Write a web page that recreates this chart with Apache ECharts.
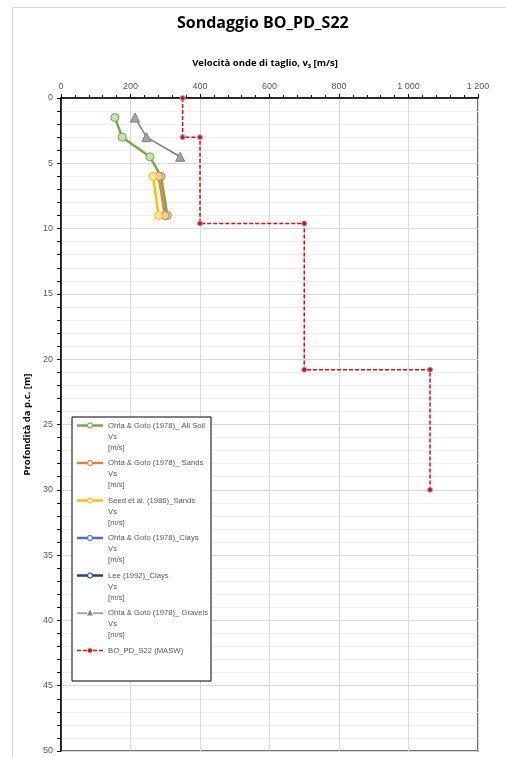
<!DOCTYPE html>
<html>
<head>
<meta charset="utf-8">
<script src="https://cdn.jsdelivr.net/npm/echarts@6/dist/echarts.min.js"></script>
<style>
html,body{margin:0;padding:0;background:#fff;}
#chart{width:506px;height:757px;}
</style>
</head>
<body>
<div id="chart"></div>
<script>
// ---- data ----
const xTicks = [0, 200, 400, 600, 800, 1000, 1200];
const yTicks = [0, 5, 10, 15, 20, 25, 30, 35, 40, 45, 50];

const depthAllSoil = [1.5, 3, 4.5, 6, 9];
const vsAllSoil    = [155, 176, 256, 288, 306];

const depthSands = [6, 9];
const vsSands    = [281, 299];

const depthSeed = [6, 9];
const vsSeed    = [265, 281];

const depthClays = [];
const vsClays    = [];

const depthLee = [];
const vsLee    = [];

const depthGravels = [1.5, 3, 4.5];
const vsGravels    = [213, 246, 343];

const depthMasw = [0, 3, 3, 9.6, 9.6, 20.8, 20.8, 30];
const vsMasw    = [350, 350, 400, 400, 700, 700, 1062, 1062];

const names = [
  'Ohta & Goto (1978)_ All Soil\nVs\n[m/s]',
  'Ohta & Goto (1978)_ Sands\nVs\n[m/s]',
  'Seed et al. (1986)_Sands\nVs\n[m/s]',
  'Ohta & Goto (1978)_Clays\nVs\n[m/s]',
  'Lee (1992)_Clays\nVs\n[m/s]',
  'Ohta & Goto (1978)_ Gravels\nVs\n[m/s]',
  'BO_PD_S22 (MASW)'
];

// ---- build ----
const pairs = (vs, d) => vs.map((v, i) => [v, d[i]]);
const FONT = "'Liberation Sans Narrow','Liberation Sans',Arial,sans-serif";
const TFONT = "'Open Sans','Liberation Sans',sans-serif";

const colors = ['#70ad47', '#ed7d31', '#ffc000', '#4472c4', '#264478', '#7f7f7f', '#ff0000'];
const fills  = ['#c5e0b4', '#f8cbad', '#ffe699', '#b4c7e7', '#8faadc', '#a5a5a5', '#ff0000'];

// legend icon: line at top (first text line), hollow circle
const ring = 'M0,0M26,33M0,4.3L10,4.3L10,6.7L0,6.7ZM16,4.3L26,4.3L26,6.7L16,6.7Z' +
  'M16,5.5A3,3 0 1,1 10,5.5A3,3 0 1,1 16,5.5ZM14.9,5.5A1.9,1.9 0 1,0 11.1,5.5A1.9,1.9 0 1,0 14.9,5.5Z';
const tri = 'M0,0M26,33M0,5L10,5L10,6.3L0,6.3ZM16,5L26,5L26,6.3L16,6.3ZM13,2.3L16,8L10,8Z';
const dash = 'M0,0M26,33M0,4.7L4,4.7L4,6.3L0,6.3ZM6,4.7L10,4.7L10,6.3L6,6.3ZM16,4.7L20,4.7L20,6.3L16,6.3ZM22,4.7L26,4.7L26,6.3L22,6.3Z' +
  'M15.2,5.5A2.2,2.2 0 1,1 10.8,5.5A2.2,2.2 0 1,1 15.2,5.5Z';

const legendData = names.map((n, i) => ({
  name: n,
  icon: 'path://' + (i === 5 ? tri : i === 6 ? dash : ring),
  itemStyle: { color: colors[i], borderWidth: 0 }
}));

function lineSeries(i, data, opts) {
  return Object.assign({
    name: names[i],
    type: 'line',
    data: data,
    symbol: 'circle',
    symbolSize: 8,
    lineStyle: { color: colors[i], width: 2.5 },
    itemStyle: { color: fills[i], borderColor: colors[i], borderWidth: 1 },
    emphasis: { disabled: true },
    animation: false,
    z: 3
  }, opts || {});
}

const chart = echarts.init(document.getElementById('chart'), null, { renderer: 'canvas' });
chart.setOption({
  backgroundColor: '#ffffff',
  animation: false,
  title: {
    text: 'Sondaggio BO_PD_S22',
    top: 15,
    left: 177,
    padding: 0,
    textStyle: { fontFamily: TFONT, fontSize: 16, fontWeight: 'bold', color: '#000' }
  },
  graphic: [{
    type: 'rect',
    shape: { x: 12.5, y: 7.5, width: 510, height: 770 },
    style: { fill: 'none', stroke: '#d9d9d9', lineWidth: 1 },
    z: -1
  }],
  grid: {
    left: 61, top: 98, right: 28, bottom: 6,
    show: true, borderColor: '#404040', borderWidth: 1.5, backgroundColor: 'transparent'
  },
  legend: {
    orient: 'vertical',
    left: 72,
    top: 417,
    padding: [3, 3, 3, 5],
    itemWidth: 26,
    itemHeight: 33,
    itemGap: 4.5,
    backgroundColor: '#ffffff',
    borderColor: '#000000',
    borderWidth: 1,
    data: legendData,
    formatter: function (n) { return n === names[6] ? n + '\n \n ' : n; },
    textStyle: { fontFamily: FONT, fontSize: 7.7, lineHeight: 11, color: '#595959' },
    selectedMode: false,
    z: 10
  },
  xAxis: {
    type: 'value',
    position: 'top',
    min: xTicks[0],
    max: xTicks[xTicks.length - 1],
    interval: 200,
    name: '{b|Velocità onde di taglio, v}{s|s}{b| [m/s]}',
    nameLocation: 'middle',
    nameGap: 28,
    nameTextStyle: {
      padding: [0, 9, 0, 0],
      rich: {
        b: { fontFamily: TFONT, fontSize: 9.5, fontWeight: 'bold', color: '#000' },
        s: { fontFamily: TFONT, fontSize: 6.5, fontWeight: 'bold', color: '#000', verticalAlign: 'bottom', padding: [6, 0, 0, 0] }
      }
    },
    axisLine: { show: true, lineStyle: { color: '#000', width: 1.5 } },
    axisTick: { show: true, inside: false, length: 4, lineStyle: { color: '#000' } },
    minorTick: { show: true, splitNumber: 5, length: 3, lineStyle: { color: '#000' } },
    axisLabel: {
      fontFamily: FONT, fontSize: 9, color: '#595959', margin: 7,
      formatter: v => String(v).replace(/\B(?=(\d{3})+$)/g, ' ')
    },
    splitLine: { show: true, lineStyle: { color: '#d9d9d9', width: 1 } },
    minorSplitLine: { show: false }
  },
  yAxis: {
    type: 'value',
    inverse: true,
    min: yTicks[0],
    max: yTicks[yTicks.length - 1],
    interval: 5,
    name: 'Profondità da p.c. [m]',
    nameLocation: 'middle',
    nameRotate: 90,
    nameGap: 24,
    nameTextStyle: { fontFamily: TFONT, fontSize: 9.5, fontWeight: 'bold', color: '#000' },
    axisLine: { show: true, lineStyle: { color: '#000', width: 1.5 } },
    axisTick: { show: true, inside: false, length: 4, lineStyle: { color: '#000' } },
    minorTick: { show: true, splitNumber: 5, length: 4, lineStyle: { color: '#000' } },
    axisLabel: { fontFamily: FONT, fontSize: 9, color: '#595959', margin: 8 },
    splitLine: { show: true, lineStyle: { color: '#d9d9d9', width: 1 } },
    minorSplitLine: { show: true, lineStyle: { color: '#f0f0f0', width: 1 } }
  },
  series: [
    lineSeries(0, pairs(vsAllSoil, depthAllSoil)),
    lineSeries(1, pairs(vsSands, depthSands)),
    lineSeries(2, pairs(vsSeed, depthSeed)),
    lineSeries(3, pairs(vsClays, depthClays)),
    lineSeries(4, pairs(vsLee, depthLee)),
    lineSeries(5, pairs(vsGravels, depthGravels), {
      symbol: 'triangle', symbolSize: 9,
      lineStyle: { color: colors[5], width: 1.5 },
      itemStyle: { color: fills[5], borderColor: colors[5], borderWidth: 1 }
    }),
    lineSeries(6, pairs(vsMasw, depthMasw), {
      symbolSize: 5,
      lineStyle: { color: colors[6], width: 1.5, type: [4, 2] },
      itemStyle: { color: '#ff0000', borderColor: '#8faadc', borderWidth: 1 },
      z: 4
    })
  ]
});
</script>
</body>
</html>
